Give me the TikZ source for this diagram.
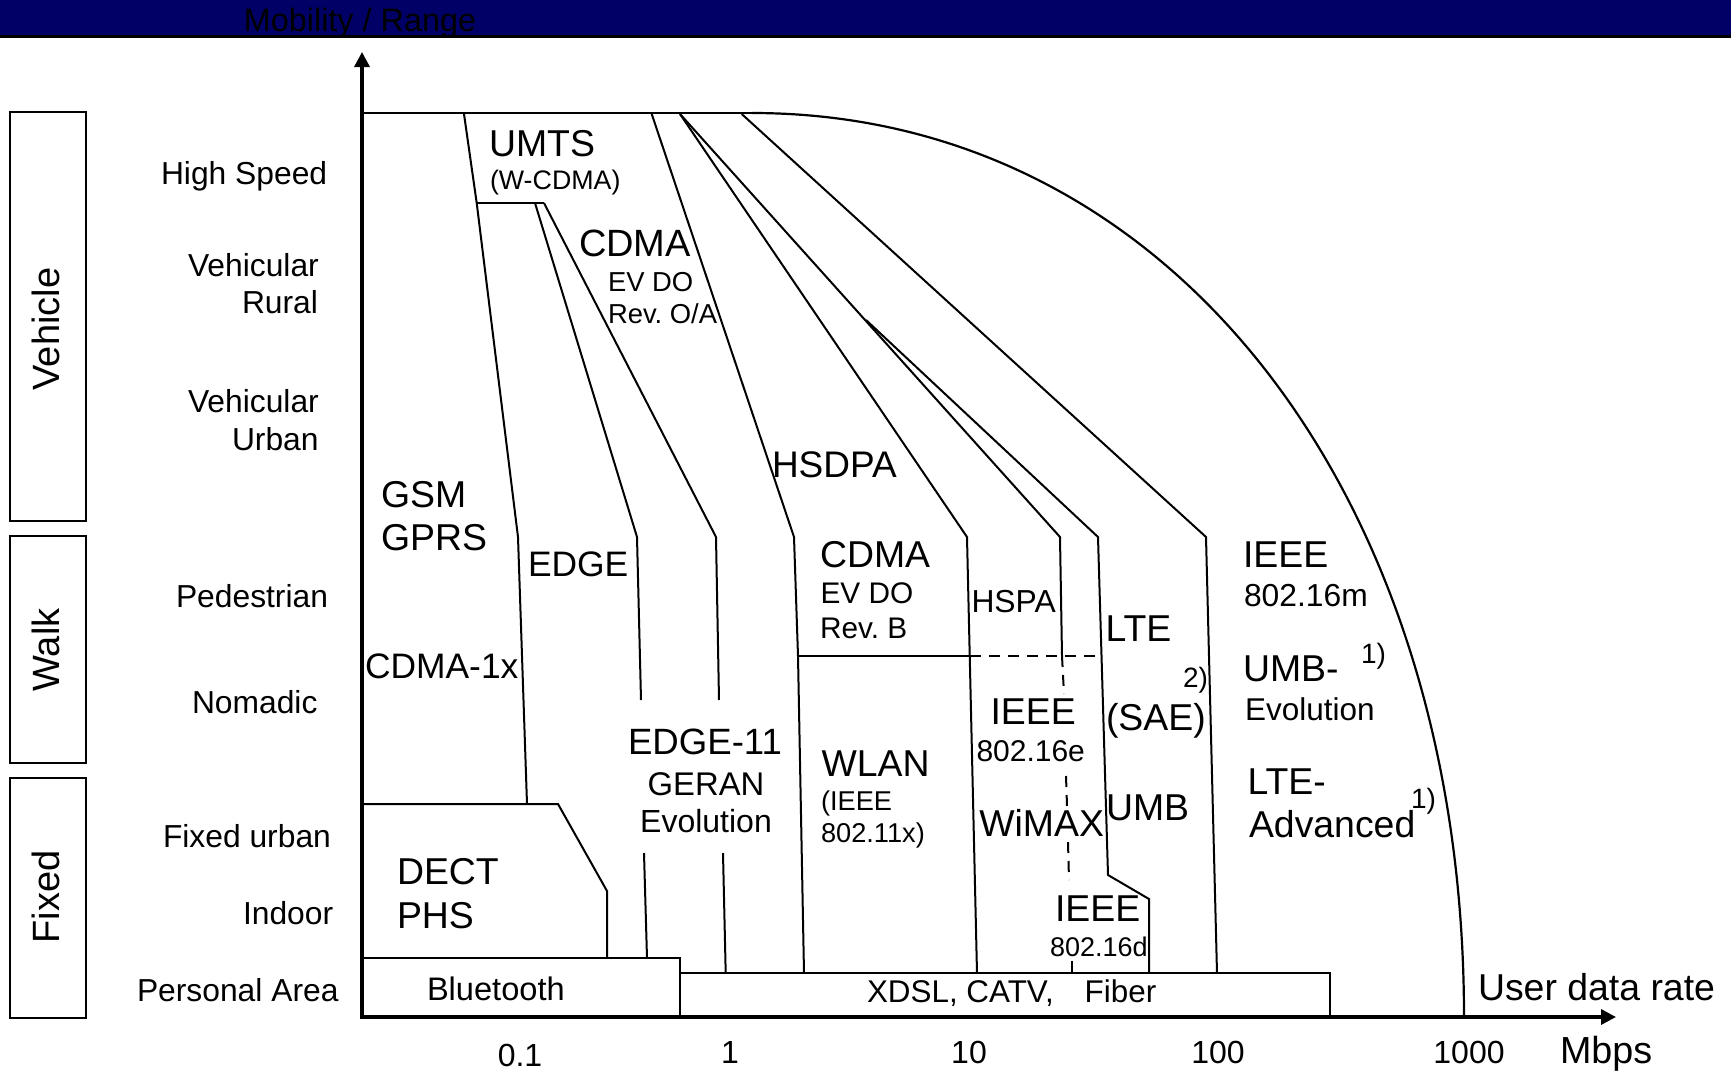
\documentclass[tikz,border=0pt]{standalone}
\usepackage{fontspec}
\setmainfont{Liberation Sans}
\usetikzlibrary{arrows.meta}
\definecolor{navybar}{RGB}{0,0,102}
\newcommand{\fs}[1]{\fontsize{#1}{#1}\selectfont}
\frenchspacing
\begin{document}
\begin{tikzpicture}[x=0.5pt,y=-0.5pt,
  txt/.style={inner sep=0pt, outer sep=0pt, anchor=base west},
  ctxt/.style={inner sep=0pt, outer sep=0pt, anchor=base},
  fbig/.style={font=\fs{18.7}},
  fmid/.style={font=\fs{15.9}},
  fsm/.style={font=\fs{13.6}},
  reg/.style={line width=1pt},
  dsh/.style={line width=1pt, dash pattern=on 5.5pt off 4pt},
  boxline/.style={line width=1.2pt},
  axisline/.style={line width=1.7pt, line join=miter,
    {Triangle[length=7.5pt,width=7.5pt]}-{Triangle[length=7.5pt,width=7.5pt]}},
  catlabel/.style={inner sep=0pt, anchor=base, rotate=90, font=\fs{19}},
]
\useasboundingbox (0,0) rectangle (1731,1076);
% title bar
\fill[navybar] (0,0) rectangle (1731,35);
\fill[black] (0,35) rectangle (1731,38);
\node[ctxt, font=\fs{16.2}] (title) at (360,32) {Mobility / Range};

% axes
\coordinate (O) at (362,1017);
\coordinate (ytip) at (362,52);
\coordinate (xtip) at (1616,1017);
\draw[axisline] (ytip) -- (O) -- (xtip);

% outer envelope
\draw[line width=1.35pt] (362,113) -- (752,113);
\draw[line width=1.1pt] (752,113) .. controls (1172,113) and (1464,497) .. (1464,1017);

% region boundaries
\draw[reg] (464,114) -- (476.7,203) -- (518,537) -- (527,804);
\draw[reg] (476.7,203) -- (544,203);
\draw[reg] (535,203) -- (637,537) -- (641,700);
\draw[reg] (644,853) -- (647,958);
\draw[reg] (544,203) -- (716,537) -- (719,700);
\draw[reg] (723,853) -- (725.7,973);
\draw[reg] (651.7,114) -- (794,537) -- (798,656) -- (804,973);
\draw[reg] (798,656) -- (970,656);
\draw[dsh] (970,656) -- (1100,656);
\draw[reg] (680,114) -- (967,537) -- (977,973);
\draw[reg] (680,114) -- (1060,537) -- (1062,656);
\draw[dsh] (1062,656) -- (1064,694);
\draw[dsh] (1066,776) -- (1067,806);
\draw[dsh] (1068,842) -- (1069,880);
\draw[reg] (1072,961) -- (1072,973);
\draw[reg] (866,320) -- (1098,537) -- (1108,875) -- (1149,899) -- (1149,973);
\draw[reg] (741.7,114) -- (1206,537) -- (1217,973);
\draw[reg] (362,804) -- (558,804) -- (607,891) -- (607,957.7);

% bottom boxes
\draw[boxline] (362,957.7) rectangle (680,1017);
\draw[boxline] (680,973) rectangle (1330,1017);

% category boxes
\draw[boxline] (10,112) rectangle (86,521);
\draw[boxline] (10,536) rectangle (86,763);
\draw[boxline] (10,778) rectangle (86,1018);
\node[catlabel] (vehicle) at (60,329) {Vehicle};
\node[catlabel] (walk) at (60,650) {Walk};
\node[catlabel] (fixed) at (60,897) {Fixed};

% mobility classes
\node[txt, fmid] (hs) at (161,184) {High Speed};
\node[txt, fmid] (vr1) at (188,276) {Vehicular};
\node[txt, fmid] (vr2) at (242,313) {Rural};
\node[txt, fmid] (vu1) at (188,412) {Vehicular};
\node[txt, fmid] (vu2) at (232,450) {Urban};
\node[txt, fmid] (ped) at (176,607) {Pedestrian};
\node[txt, fmid] (nom) at (192,713) {Nomadic};
\node[txt, fmid] (fu) at (163,847) {Fixed urban};
\node[txt, fmid] (ind) at (243,924.5) {Indoor};
\node[txt, fmid] (pa) at (137,1001) {Personal Area};

% technologies
\node[txt, fbig] (umts) at (489,156) {UMTS};
\node[txt, font=\fs{13.4}] (wcdma) at (490,189) {(W-CDMA)};
\node[txt, font=\fs{19}] (cdmaa) at (579,256.7) {CDMA};
\node[txt, font=\fs{13.7}] (evdoa) at (608,291) {EV DO};
\node[txt, font=\fs{13.7}] (revoa) at (608,323.3) {Rev. O/A};
\node[txt, fbig] (gsm) at (381,507) {GSM};
\node[txt, fbig] (gprs) at (381,550) {GPRS};
\node[txt, font=\fs{18.5}] (hsdpa) at (772,477) {HSDPA};
\node[txt, font=\fs{17.7}] (edge) at (528,576.5) {EDGE};
\node[txt, font=\fs{17.7}] (cdma1x) at (365,678) {CDMA-1x};
\node[ctxt, font=\fs{18.3}] (edge11) at (705,754.4) {EDGE-11};
\node[ctxt, font=\fs{16.4}] (geran) at (706,795) {GERAN};
\node[ctxt, font=\fs{16}] (evol1) at (706,832.7) {Evolution};
\node[txt, fbig] (dect) at (397,884) {DECT};
\node[txt, fbig] (phs) at (397,928) {PHS};
\node[txt, font=\fs{16.3}] (bt) at (427,1000) {Bluetooth};
\node[txt, fbig] (cdmab) at (820,567) {CDMA};
\node[txt, font=\fs{14.9}] (evdob) at (820.5,603.7) {EV DO};
\node[txt, font=\fs{14.9}] (revb) at (820,638) {Rev. B};
\node[txt, font=\fs{15.9}] (hspa) at (971.5,612) {HSPA};
\node[txt, fbig] (lte) at (1105.5,641.5) {LTE};
\node[txt, font=\fs{14}] (two) at (1183,687.5) {2)};
\node[txt, fbig] (sae) at (1106,730) {(SAE)};
\node[txt, fbig] (ieeee) at (990.5,724) {IEEE};
\node[txt, font=\fs{15}] (e16) at (976.5,761) {802.16e};
\node[txt, fbig] (wlan) at (821.5,776.5) {WLAN};
\node[txt, fsm] (wlan2) at (821,810.6) {(IEEE};
\node[txt, fsm] (wlan3) at (821,842) {802.11x)};
\node[txt, fbig] (wimax) at (979.3,836.4) {WiMAX};
\node[txt, fbig] (umb) at (1106,820) {UMB};
\node[txt, fbig] (ieeed) at (1055,921) {IEEE};
\node[txt, font=\fs{13.5}] (d16) at (1050,956) {802.16d};
\node[txt, font=\fs{15.7}] (xdsl) at (867,1002) {XDSL, CATV,\hspace{15.5pt}Fiber};
\node[txt, fbig] (ieeem) at (1243,567) {IEEE};
\node[txt, font=\fs{15.9}] (m16) at (1244,606.6) {802.16m};
\node[txt, fbig] (umbm) at (1243,681) {UMB-};
\node[txt, font=\fs{14}] (one1) at (1361,663.6) {1)};
\node[txt, font=\fs{15.75}] (evol2) at (1245,720.6) {Evolution};
\node[txt, fbig] (ltem) at (1247.5,794) {LTE-};
\node[txt, fbig] (adv) at (1249,837.5) {Advanced};
\node[txt, font=\fs{14}] (one2) at (1411,808) {1)};

% axis labels
\node[txt, fbig] (udr) at (1478,1000) {User data rate};
\node[txt, font=\fs{18.85}] (mbps) at (1560,1063) {Mbps};
\node[ctxt, font=\fs{16}] (t01) at (520,1066) {0.1};
\node[ctxt, font=\fs{16}] (t1) at (730,1063) {1};
\node[ctxt, font=\fs{16}] (t10) at (969,1063) {10};
\node[ctxt, font=\fs{16}] (t100) at (1218,1063) {100};
\node[ctxt, font=\fs{16}] (t1000) at (1469,1063) {1000};
\end{tikzpicture}
\end{document}
